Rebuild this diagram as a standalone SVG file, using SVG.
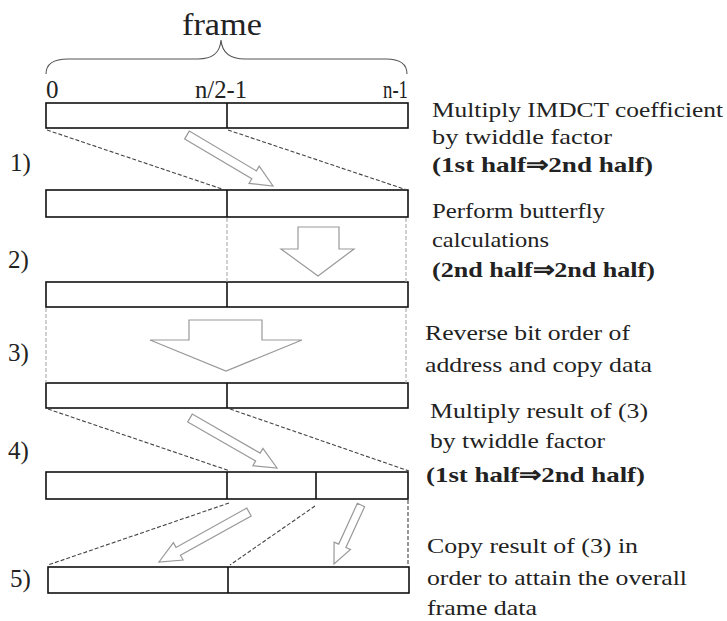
<svg xmlns="http://www.w3.org/2000/svg" width="727" height="621" viewBox="0 0 727 621">
<style>
text{font-family:"Liberation Serif",Tinos,serif;fill:#222;}
.lbl{font-size:25px;}
.desc{font-size:22px;}
.b{font-weight:bold;}
.bar{fill:#fff;stroke:#111;stroke-width:1.6;}
.div{stroke:#111;stroke-width:1.6;}
.dash{stroke:#444;stroke-width:1.1;stroke-dasharray:4 2;fill:none;}
.ldash{stroke:#aaa;stroke-width:1.1;stroke-dasharray:4 2;fill:none;}
.harrow{fill:#fff;stroke:#999;stroke-width:1.2;stroke-linejoin:miter;}
</style>
<rect width="727" height="621" fill="#fff"/>

<g id="frame-label">
<text x="182" y="35" style="font-size:32px" textLength="80" lengthAdjust="spacingAndGlyphs">frame</text>
<path d="M46,74 C46,63 54,59 68,59 L198,59 C214,59 220,52 221,40 C222,52 229,59 245,59 L386,59 C399,59 407,63 407,74" fill="none" stroke="#555" stroke-width="1.1"/>
<text class="lbl" x="46" y="98">0</text>
<text class="lbl" x="195" y="98" textLength="52" lengthAdjust="spacingAndGlyphs">n/2-1</text>
<text class="lbl" x="383" y="98" textLength="25" lengthAdjust="spacingAndGlyphs">n-1</text>
</g>

<g id="step-labels">
<text class="lbl" x="10" y="171">1)</text>
<text class="lbl" x="8" y="268">2)</text>
<text class="lbl" x="8" y="361">3)</text>
<text class="lbl" x="8" y="459">4)</text>
<text class="lbl" x="10" y="587">5)</text>
</g>

<g id="bar0"><rect class="bar" x="46" y="103" width="362" height="25"/><line class="div" x1="227" y1="103" x2="227" y2="128"/></g>
<g id="bar1"><rect class="bar" x="46" y="190" width="362" height="27"/><line class="div" x1="227" y1="190" x2="227" y2="217"/></g>
<g id="bar2"><rect class="bar" x="46" y="282" width="362" height="25"/><line class="div" x1="227" y1="282" x2="227" y2="307"/></g>
<g id="bar3"><rect class="bar" x="46" y="383" width="362" height="25"/><line class="div" x1="227" y1="383" x2="227" y2="408"/></g>
<g id="bar4"><rect class="bar" x="46" y="472" width="362" height="27"/><line class="div" x1="227" y1="472" x2="227" y2="499"/><line class="div" x1="316" y1="472" x2="316" y2="499"/></g>
<g id="bar5"><rect class="bar" x="48" y="567" width="361" height="26"/><line class="div" x1="228" y1="567" x2="228" y2="593"/></g>

<g id="connectors">
<line class="dash" x1="47" y1="130" x2="222" y2="189"/>
<line class="dash" x1="228" y1="130" x2="407" y2="190"/>
<polygon class="harrow" points="184.7,138.9 251.8,178.7 249,183.4 273,186 259.2,166.2 256.4,170.9 189.3,131.1"/>

<line class="ldash" x1="227" y1="218" x2="227" y2="282"/>
<line class="ldash" x1="406" y1="218" x2="406" y2="282"/>
<polygon class="harrow" points="298,227 339,227 339,249 354,249 318,276 281,249 298,249"/>

<line class="ldash" x1="46" y1="308" x2="46" y2="383"/>
<line class="ldash" x1="406" y1="308" x2="406" y2="383"/>
<polygon class="harrow" points="189,320 262,320 262,340 302,340 226,371 150,340 189,340"/>

<line class="dash" x1="48" y1="409" x2="230" y2="471"/>
<line class="dash" x1="230" y1="409" x2="409" y2="471"/>
<polygon class="harrow" points="187.75,421.9 255.65,460.9 252.9,465.67 277,468 262.9,448.33 260.15,453.1 192.25,414.1"/>

<line class="dash" x1="229" y1="503" x2="48" y2="565"/>
<line class="dash" x1="315" y1="506" x2="230" y2="565"/>
<line class="dash" x1="408" y1="500" x2="408" y2="567"/>
<polygon class="harrow" points="246.8,508.1 176,547.4 173.4,542.6 159,562 183.1,560 180.4,555.2 251.2,515.9"/>
<polygon class="harrow" points="357.4,503.3 338.7,544.1 334.1,542.1 334,564 350.5,549.5 345.9,547.5 364.6,506.7"/>
</g>

<g id="desc1">
<text class="desc" x="432" y="117" textLength="291" lengthAdjust="spacingAndGlyphs">Multiply IMDCT coefficient</text>
<text class="desc" x="432" y="144" textLength="180" lengthAdjust="spacingAndGlyphs">by twiddle factor</text>
<text class="desc b" x="432" y="172" textLength="221" lengthAdjust="spacingAndGlyphs">(1st half⇒2nd half)</text>
</g>
<g id="desc2">
<text class="desc" x="432" y="218" textLength="173" lengthAdjust="spacingAndGlyphs">Perform butterfly</text>
<text class="desc" x="432" y="247" textLength="117" lengthAdjust="spacingAndGlyphs">calculations</text>
<text class="desc b" x="432" y="277" textLength="223" lengthAdjust="spacingAndGlyphs">(2nd half⇒2nd half)</text>
</g>
<g id="desc3">
<text class="desc" x="425" y="340" textLength="205" lengthAdjust="spacingAndGlyphs">Reverse bit order of</text>
<text class="desc" x="425" y="372" textLength="227" lengthAdjust="spacingAndGlyphs">address and copy data</text>
</g>
<g id="desc4">
<text class="desc" x="430" y="418" textLength="218" lengthAdjust="spacingAndGlyphs">Multiply result of (3)</text>
<text class="desc" x="430" y="448" textLength="175" lengthAdjust="spacingAndGlyphs">by twiddle factor</text>
<text class="desc b" x="426" y="482" textLength="219" lengthAdjust="spacingAndGlyphs">(1st half⇒2nd half)</text>
</g>
<g id="desc5">
<text class="desc" x="427" y="553" textLength="211" lengthAdjust="spacingAndGlyphs">Copy result of (3) in</text>
<text class="desc" x="427" y="585" textLength="260" lengthAdjust="spacingAndGlyphs">order to attain the overall</text>
<text class="desc" x="427" y="615" textLength="110" lengthAdjust="spacingAndGlyphs">frame data</text>
</g>
</svg>
